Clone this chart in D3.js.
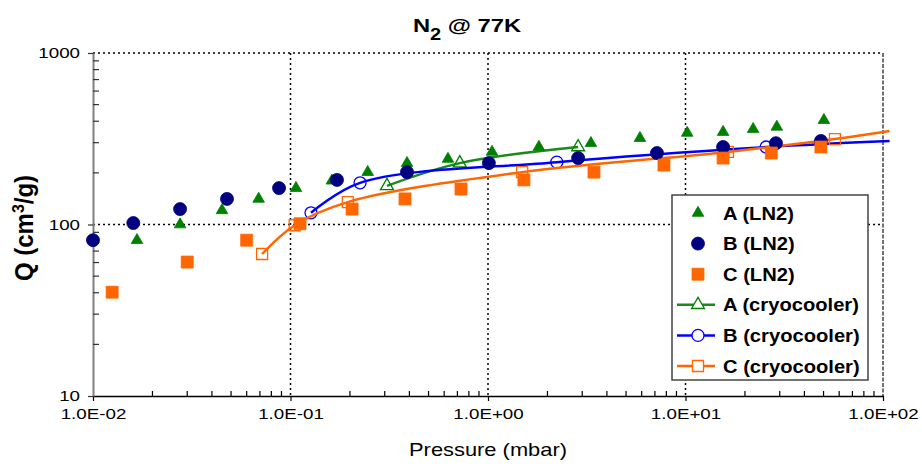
<!DOCTYPE html>
<html>
<head>
<meta charset="utf-8">
<script src="https://cdn.jsdelivr.net/npm/d3@7"></script>
<style>
  body { margin: 0; background: #fff; }
  svg { display: block; font-family: 'Liberation Sans', Arial, sans-serif; }
</style>
</head>
<body>
<div id="chart"></div>
<script>
// Axis ticks
const xTicks = [0.01, 0.1, 1, 10, 100];
const xTickLabels = ['1.0E-02', '1.0E-01', '1.0E+00', '1.0E+01', '1.0E+02'];
const yTicks = [10, 100, 1000];
const yTickLabels = ['10', '100', '1000'];

// LN2 measurements (pressure mbar, uptake cm3/g)
const aLn2P = [0.0167, 0.0276, 0.045, 0.069, 0.1066, 0.162, 0.246, 0.389, 0.627, 1.048, 1.81, 3.32, 5.88, 10.2, 15.5, 22.0, 29.0, 50.2];
const aLn2Q = [81, 100, 121, 141, 163, 180, 202, 228, 241, 265, 283, 298, 319, 342, 346, 360, 371, 406];
const bLn2P = [0.01, 0.016, 0.0276, 0.0477, 0.0875, 0.172, 0.389, 1.01, 2.86, 7.17, 15.5, 28.7, 48.5];
const bLn2Q = [81, 102, 123, 141, 163, 182, 202, 228, 244, 261, 283, 298, 307];
const cLn2P = [0.0125, 0.030, 0.060, 0.1117, 0.205, 0.380, 0.73, 1.52, 3.44, 7.78, 15.5, 27.2, 48.5];
const cLn2Q = [40.3, 60.4, 81, 101, 123, 141, 161, 182, 202, 222, 244, 261, 283];

// Cryocooler measurements
const aCryoP = [0.308, 0.72, 2.86];
const aCryoQ = [168, 228, 283];
const bCryoP = [0.127, 0.225, 2.23, 25.6, 108];
const bCryoQ = [117, 175, 231, 283, 307];
const cCryoP = [0.0718, 0.105, 0.195, 1.49, 16.4, 57.1, 108];
const cCryoQ = [67.3, 99, 135, 202, 265, 315, 351];

const legendLabels = ['A (LN2)', 'B (LN2)', 'C (LN2)', 'A (cryocooler)', 'B (cryocooler)', 'C (cryocooler)'];

(function () {
  const W = 922, H = 464;
  const margin = { top: 53, right: 39, bottom: 68, left: 93 };
  const width = W - margin.left - margin.right;
  const height = H - margin.top - margin.bottom;
  const sx = 1.25; // text in the original is horizontally stretched

  const zip = (ps, qs) => ps.map((p, i) => ({ p: p, q: qs[i] }));

  const svg = d3.select('#chart').append('svg').attr('width', W).attr('height', H);
  const g = svg.append('g').attr('transform', `translate(${margin.left},${margin.top})`);

  const x = d3.scaleLog().domain([0.01, 100]).range([0, width]);
  const y = d3.scaleLog().domain([10, 1000]).range([height, 0]);

  // Grid
  g.append('g')
    .selectAll('line')
    .data([0.1, 1, 10])
    .enter()
    .append('line')
    .attr('x1', (d) => x(d)).attr('x2', (d) => x(d))
    .attr('y1', 0).attr('y2', height)
    .attr('stroke', '#000').attr('stroke-width', 1.5).attr('stroke-dasharray', '2,3');

  g.append('g')
    .selectAll('line')
    .data([100, 1000])
    .enter()
    .append('line')
    .attr('x1', 0).attr('x2', width)
    .attr('y1', (d) => y(d)).attr('y2', (d) => y(d))
    .attr('stroke', '#000').attr('stroke-width', 1.5).attr('stroke-dasharray', '2,3');

  g.append('line')
    .attr('x1', x(100)).attr('x2', x(100))
    .attr('y1', 0).attr('y2', height)
    .attr('stroke', '#444').attr('stroke-width', 1.5).attr('stroke-dasharray', '4,1.5');

  // Bottom axis
  const xAxis = g.append('g')
    .attr('transform', `translate(0,${height})`)
    .call(d3.axisBottom(x).tickValues(xTicks).tickSize(5).tickSizeOuter(0).tickFormat((d, i) => xTickLabels[i]));
  xAxis.select('.domain').attr('stroke', '#000').attr('stroke-width', 1.5);
  xAxis.selectAll('.tick line').attr('stroke', '#000').attr('stroke-width', 1.2);
  xAxis.selectAll('.tick text')
    .attr('y', 23).attr('dy', 0)
    .attr('font-size', 15).attr('fill', '#000')
    .attr('font-family', "'Liberation Sans', Arial, sans-serif")
    .attr('transform', `scale(${sx},1)`);

  const xMinor = x.ticks().filter((d) => xTicks.indexOf(d) < 0);
  g.append('g')
    .selectAll('line')
    .data(xMinor)
    .enter()
    .append('line')
    .attr('x1', (d) => x(d)).attr('x2', (d) => x(d))
    .attr('y1', height).attr('y2', height - 5)
    .attr('stroke', '#000').attr('stroke-width', 1.2);

  // Left axis
  const yAxis = g.append('g')
    .call(d3.axisLeft(y).tickValues(yTicks).tickSize(5).tickSizeOuter(0).tickFormat((d, i) => yTickLabels[i]));
  yAxis.select('.domain').attr('stroke', '#808080').attr('stroke-width', 2);
  yAxis.selectAll('.tick line').attr('stroke', '#333').attr('stroke-width', 1.2);
  yAxis.selectAll('.tick text')
    .attr('x', -10.4)
    .attr('font-size', 15).attr('fill', '#000')
    .attr('font-family', "'Liberation Sans', Arial, sans-serif")
    .attr('transform', `scale(${sx},1)`);

  const yMinor = y.ticks().filter((d) => yTicks.indexOf(d) < 0);
  g.append('g')
    .selectAll('line')
    .data(yMinor)
    .enter()
    .append('line')
    .attr('x1', 0).attr('x2', 6)
    .attr('y1', (d) => y(d)).attr('y2', (d) => y(d))
    .attr('stroke', '#333').attr('stroke-width', 1.2);

  // Series styles
  const series = [
    { name: 'aLn2', data: zip(aLn2P, aLn2Q), color: '#008000', symbol: d3.symbolTriangle, size: 58, open: false },
    { name: 'bLn2', data: zip(bLn2P, bLn2Q), color: '#000080', symbol: d3.symbolCircle, size: 133, open: false },
    { name: 'cLn2', data: zip(cLn2P, cLn2Q), color: '#ff6600', symbol: d3.symbolSquare, size: 144, open: false },
    { name: 'aCryo', data: zip(aCryoP, aCryoQ), color: '#008000', line: '#1a8a1a', symbol: d3.symbolTriangle, size: 72, open: true },
    { name: 'bCryo', data: zip(bCryoP, bCryoQ), color: '#0000ff', line: '#0000ff', symbol: d3.symbolCircle, size: 113, open: true },
    { name: 'cCryo', data: zip(cCryoP, cCryoQ), color: '#ff6600', line: '#ff6600', symbol: d3.symbolSquare, size: 121, open: true }
  ];

  const line = d3.line()
    .x((d) => x(d.p))
    .y((d) => y(d.q))
    .curve(d3.curveCatmullRom.alpha(0.5));

  function drawMarkers(s) {
    g.append('g')
      .selectAll('path')
      .data(s.data.filter((d) => d.p <= 100))
      .enter()
      .append('path')
      .attr('transform', (d) => `translate(${x(d.p)},${y(d.q)})`)
      .attr('d', d3.symbol().type(s.symbol).size(s.size))
      .attr('fill', s.open ? 'none' : s.color)
      .attr('stroke', s.color)
      .attr('stroke-width', s.open ? 1.3 : 0.8);
  }

  // Cryocooler curves first, LN2 markers on top
  series.filter((s) => s.open).forEach((s) => {
    g.append('path')
      .datum(s.data)
      .attr('d', line)
      .attr('fill', 'none')
      .attr('stroke', s.line)
      .attr('stroke-width', 2.5);
    drawMarkers(s);
  });
  series.filter((s) => !s.open).forEach(drawMarkers);

  // Legend
  const legend = svg.append('g').attr('transform', 'translate(672,195)');
  legend.append('rect')
    .attr('width', 196).attr('height', 185)
    .attr('fill', '#fff').attr('stroke', '#444').attr('stroke-width', 1.5);

  const rows = legend.selectAll('.row')
    .data(series)
    .enter()
    .append('g')
    .attr('class', 'row')
    .attr('transform', (d, i) => `translate(0,${18 + i * 30.6})`);

  rows.filter((d) => d.open)
    .append('line')
    .attr('x1', 5).attr('x2', 43)
    .attr('stroke', (d) => d.line).attr('stroke-width', 2.5);

  rows.append('path')
    .attr('transform', 'translate(26,0)')
    .attr('d', (d) => d3.symbol().type(d.symbol).size(d.size)())
    .attr('fill', (d) => (d.open ? '#fff' : d.color))
    .attr('stroke', (d) => d.color)
    .attr('stroke-width', (d) => (d.open ? 1.3 : 0.8));

  rows.append('text')
    .attr('transform', 'translate(51,6.5) scale(1.12,1)')
    .attr('font-size', 18)
    .attr('font-weight', 'bold')
    .text((d, i) => legendLabels[i]);

  // Title
  const title = svg.append('text')
    .attr('transform', `translate(467,32) scale(${sx},1)`)
    .attr('text-anchor', 'middle')
    .attr('font-size', 19)
    .attr('font-weight', 'bold');
  title.append('tspan').text('N');
  title.append('tspan').attr('dy', 8).attr('font-size', 16).text('2');
  title.append('tspan').attr('dy', -8).text(' @ 77K');

  // Axis titles
  svg.append('text')
    .attr('transform', `translate(${margin.left + width / 2},456) scale(${sx},1)`)
    .attr('text-anchor', 'middle')
    .attr('font-size', 17.5)
    .text('Pressure (mbar)');

  const yLabel = svg.append('text')
    .attr('transform', 'translate(33,228) rotate(-90) scale(1,1.05)')
    .attr('text-anchor', 'middle')
    .attr('font-size', 24)
    .attr('font-weight', 'bold');
  yLabel.append('tspan').text('Q (cm');
  yLabel.append('tspan').attr('dy', -9).attr('font-size', 16).text('3');
  yLabel.append('tspan').attr('dy', 9).text('/g)');
})();
</script>
</body>
</html>
